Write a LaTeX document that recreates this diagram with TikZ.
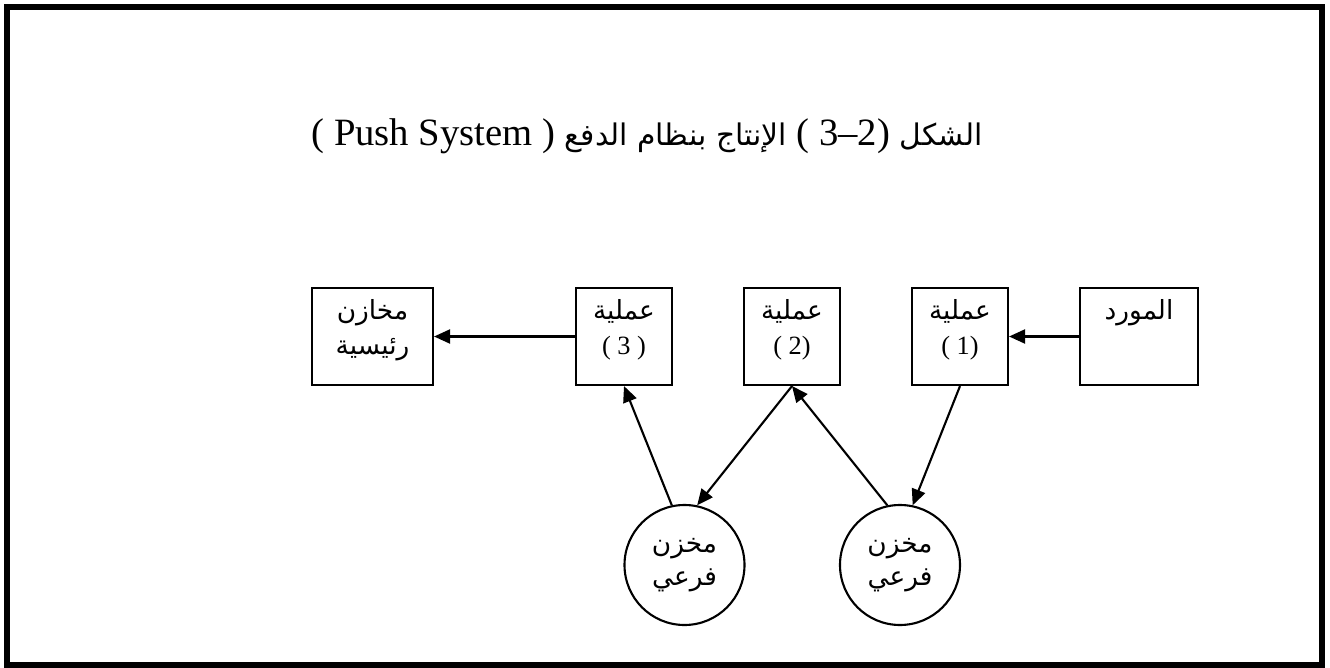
\documentclass[tikz,border=0pt]{standalone}
\usepackage{fontspec}
\setmainfont{Liberation Serif}
\newfontfamily\arabicfont[Script=Arabic]{DejaVu Sans}
\newfontfamily\arabictitle[Script=Arabic, Scale=0.77]{DejaVu Sans}
\TeXXeTstate=1
\usetikzlibrary{arrows.meta, positioning}
\newcommand{\artext}[1]{{\arabicfont\beginR #1\endR}}
\newcommand{\artitle}[1]{{\arabictitle\beginR #1\endR}}
\tikzset{
  every picture/.style={line width=1.2pt},
  box/.style={draw, line width=1.2pt, minimum width=#1, minimum height=1.94cm, align=center, inner sep=2pt, font=\fontsize{15}{20}\selectfont, text depth=0.37cm},
  box/.default=1.92cm,
  store/.style={draw, circle, line width=1.2pt, minimum size=2.4cm, inner sep=0pt, align=center, font=\fontsize{15}{19}\selectfont},
  arrow/.style={-{Triangle[length=3.2mm, width=2.8mm]}, line width=1.2pt},
  title/.style={font=\fontsize{22}{26}\selectfont},
}

\begin{document}
\begin{tikzpicture}
  \useasboundingbox (0,0) rectangle (26.6,-13.36);
  \draw[line width=0.12cm] (0.14,-0.14) rectangle (26.44,-13.3);
  \node[title] (ttl) at (12.94,-2.72) {\beginR\artitle{الشكل} \beginL( 3--2)\endL{} \artitle{الإنتاج بنظام الدفع} \beginL( Push System )\endL\endR};
  % top row, goods flow from right to left
  \node[box=2.42cm] (main) at (7.45,-6.73) {\artext{مخازن}\\\artext{رئيسية}};
  \node[box] (p3) at (12.48,-6.73) {\artext{عملية}\\( 3 )};
  \node[box] (p2) at (15.84,-6.73) {\artext{عملية}\\( 2)};
  \node[box] (p1) at (19.2,-6.73) {\artext{عملية}\\( 1)};
  \node[box=2.36cm] (supp) at (22.78,-6.73) {\artext{المورد}\\\phantom{(1)}};
  % sub stores under the processes
  \node[store] (sub2) at (13.69,-11.3) {\artext{مخزن}\\\artext{فرعي}};
  \node[store] (sub1) at (18.0,-11.3) {\artext{مخزن}\\\artext{فرعي}};
  \draw[arrow] (supp.west) -- (p1.east);
  \draw[arrow] (p3.west) -- (main.east);
  \draw[arrow] (p1.south) -- (sub1.78);
  \draw[arrow] (sub1.102) -- (p2.south);
  \draw[arrow] (p2.south) -- (sub2.78);
  \draw[arrow] (sub2.102) -- (p3.south);
\end{tikzpicture}
\end{document}
